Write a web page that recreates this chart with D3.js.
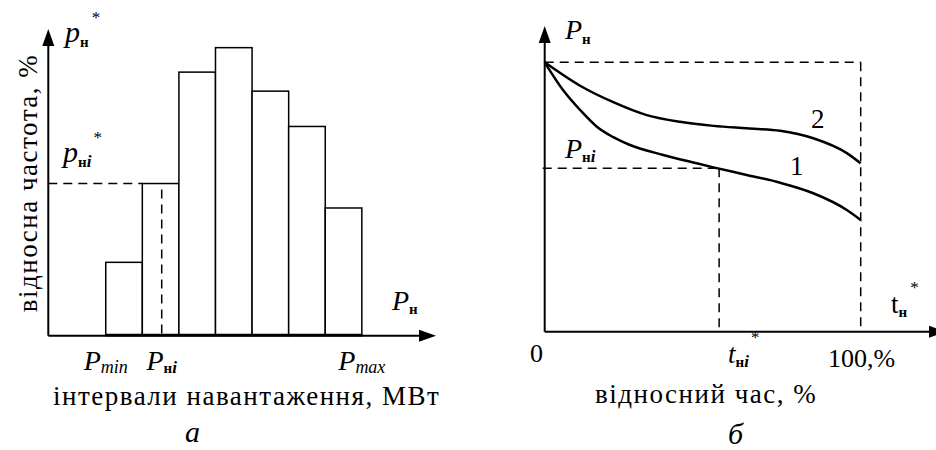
<!DOCTYPE html>
<html><head><meta charset="utf-8">
<script src="https://cdn.jsdelivr.net/npm/d3@7"></script>
<style>
html,body{margin:0;padding:0;background:#fff;}
svg{display:block;}
text{font-family:"Liberation Serif","Times New Roman","Tinos","Noto Serif","DejaVu Serif",serif;}
</style></head>
<body>
<svg id="c" width="936" height="450"></svg>
<script>
// ---- data: panel (а) histogram of load intervals ----
const binIndex = [0, 1, 2, 3, 4, 5, 6];          // load interval number (Pmin .. Pmax)
const binFreq  = [5.4, 11.2, 19.4, 21.2, 18.0, 15.4, 9.4]; // relative frequency, %
const pniBin   = 1;        // highlighted interval
const pniMark  = 1.53;     // position of P_нi inside interval
const xTickPos = [0, 1.53, 7];
const xTickSub = ["min", "нi", "max"];

// ---- data: panel (б) load duration curves ----
const curve1T = [0, 5.8, 11.2, 16.5, 21.7, 27.0, 37.5, 48.1, 53.4, 63.9, 74.5, 85.0, 95.6, 100];
const curve1P = [100, 89.7, 82.3, 76.1, 72.2, 69.3, 65.6, 62.5, 61.0, 58.2, 55.3, 51.4, 45.2, 41.5];
const curve2T = [0, 11.2, 21.7, 32.3, 42.8, 53.4, 63.9, 74.5, 85.0, 95.6, 100];
const curve2P = [100, 91.3, 85.2, 80.4, 77.9, 76.4, 75.5, 74.6, 71.8, 66.3, 62.5];
const pniLevel = 60.7;
const tniShare = 55.2;

const svg = d3.select("#c");
const ink = "#000";

function arrow(g, x, y, dir) {
  const L = 17, W = 6;
  const pts = dir === "up"
    ? [[x, y], [x - W, y + L], [x + W, y + L]]
    : [[x, y], [x - L, y - W], [x - L, y + W]];
  g.append("path").attr("d", "M" + pts.map(p => p.join(",")).join("L") + "Z").attr("fill", ink);
}

function label(g, x, y, parts) {
  const t = g.append("text").attr("x", x).attr("y", y).attr("fill", ink);
  parts.forEach(p => {
    const s = t.append("tspan").text(p.t).attr("font-size", p.fs);
    if (p.it) s.attr("font-style", "italic");
    if (p.b) s.attr("font-weight", "bold");
    if (p.dy) s.attr("dy", p.dy);
    if (p.dx) s.attr("dx", p.dx);
  });
  return t;
}

// ================= Panel (а) =================
const gA = svg.append("g");
const xA = d3.scaleLinear().domain([-1.57, 9.0]).range([48.3, 435]);
const yA = d3.scaleLinear().domain([0, 22.5]).range([335.7, 30]);

gA.selectAll("rect.bar").data(binIndex).enter().append("rect")
  .attr("class", "bar")
  .attr("x", d => xA(d))
  .attr("y", (d, i) => yA(binFreq[i]))
  .attr("width", d => xA(d + 1) - xA(d))
  .attr("height", (d, i) => yA(0) - yA(binFreq[i]))
  .attr("fill", "#fff").attr("stroke", ink).attr("stroke-width", 1.5);

gA.append("line").attr("x1", xA(0)).attr("x2", xA(7)).attr("y1", yA(0) - 1).attr("y2", yA(0) - 1)
  .attr("stroke", ink).attr("stroke-width", 2);

gA.append("line").attr("x1", xA(-1.57)).attr("x2", xA(pniBin)).attr("y1", yA(binFreq[pniBin])).attr("y2", yA(binFreq[pniBin]))
  .attr("stroke", ink).attr("stroke-width", 1.5).attr("stroke-dasharray", "9,6");
gA.append("line").attr("x1", xA(pniMark)).attr("x2", xA(pniMark)).attr("y1", yA(binFreq[pniBin]) + 6).attr("y2", yA(0))
  .attr("stroke", ink).attr("stroke-width", 1.5).attr("stroke-dasharray", "9,6");

gA.append("line").attr("x1", xA(-1.57)).attr("x2", xA(-1.57)).attr("y1", yA(0)).attr("y2", 44)
  .attr("stroke", ink).attr("stroke-width", 2);
arrow(gA, xA(-1.57), 29, "up");
gA.append("line").attr("x1", xA(-1.57)).attr("x2", 420).attr("y1", yA(0)).attr("y2", yA(0))
  .attr("stroke", ink).attr("stroke-width", 2);
arrow(gA, 436, yA(0), "right");

label(gA, 65, 42, [{t: "p", it: 1, fs: 30}, {t: "н", b: 1, fs: 15, dy: 5}, {t: "*", fs: 17, dy: -24, dx: 3}]);
label(gA, 63, 162, [{t: "p", it: 1, fs: 30}, {t: "н", b: 1, fs: 15, dy: 5}, {t: "i", b: 1, it: 1, fs: 17}, {t: "*", fs: 17, dy: -24, dx: 2}]);
label(gA, 392, 310, [{t: "P", it: 1, fs: 28}, {t: "н", b: 1, fs: 15, dy: 4}]);

xTickPos.forEach((p, i) => {
  const sub = xTickSub[i] === "нi"
    ? [{t: "н", b: 1, fs: 15, dy: 3}, {t: "i", b: 1, it: 1, fs: 17}]
    : [{t: xTickSub[i], it: 1, fs: 18, dy: 3}];
  label(gA, xA(p), 370, [{t: "P", it: 1, fs: 28}].concat(sub)).attr("text-anchor", "middle");
});

gA.append("text").attr("x", 53).attr("y", 405).attr("font-size", 27).attr("letter-spacing", 1.5).attr("fill", ink)
  .text("інтервали навантаження, МВт");
gA.append("text").attr("transform", "translate(36.5,183) rotate(-90)").attr("text-anchor", "middle")
  .attr("font-size", 27).attr("letter-spacing", 1.5).attr("fill", ink).text("відносна частота, %");
gA.append("text").attr("x", 185).attr("y", 442).attr("font-size", 30).attr("font-style", "italic").attr("fill", ink).text("а");

// ================= Panel (б) =================
const gB = svg.append("g");
const xB = d3.scaleLinear().domain([0, 100]).range([544.7, 860.7]);
const yB = d3.scaleLinear().domain([0, 100]).range([331.7, 62.3]);

const dashed = (x1, y1, x2, y2) => gB.append("line").attr("x1", x1).attr("y1", y1).attr("x2", x2).attr("y2", y2)
  .attr("stroke", ink).attr("stroke-width", 1.5).attr("stroke-dasharray", "9,6");
dashed(xB(0), yB(100), xB(100), yB(100));
dashed(xB(100), yB(100), xB(100), yB(0));
dashed(xB(0) - 2, yB(pniLevel), xB(tniShare), yB(pniLevel));
dashed(xB(tniShare), yB(pniLevel), xB(tniShare), yB(0));

const line = d3.line().x(d => xB(d[0])).y(d => yB(d[1])).curve(d3.curveMonotoneX);
gB.append("path").datum(d3.zip(curve1T, curve1P)).attr("d", line)
  .attr("fill", "none").attr("stroke", ink).attr("stroke-width", 2.5);
gB.append("path").datum(d3.zip(curve2T, curve2P)).attr("d", line)
  .attr("fill", "none").attr("stroke", ink).attr("stroke-width", 2.5);

gB.append("line").attr("x1", xB(0)).attr("x2", xB(0)).attr("y1", yB(0)).attr("y2", 40)
  .attr("stroke", ink).attr("stroke-width", 2);
arrow(gB, xB(0), 26, "up");
gB.append("line").attr("x1", xB(0)).attr("x2", 935).attr("y1", yB(0)).attr("y2", yB(0))
  .attr("stroke", ink).attr("stroke-width", 2);
arrow(gB, 946, yB(0), "right");

label(gB, 565, 39, [{t: "P", it: 1, fs: 28}, {t: "н", b: 1, fs: 15, dy: 5}]);
label(gB, 565, 158, [{t: "P", it: 1, fs: 28}, {t: "н", b: 1, fs: 15, dy: 4}, {t: "i", b: 1, it: 1, fs: 17}]);
label(gB, 811, 128, [{t: "2", fs: 27}]);
label(gB, 790, 175, [{t: "1", fs: 27}]);
label(gB, 891, 313, [{t: "t", fs: 27}, {t: "н", b: 1, fs: 15, dy: 4}, {t: "*", fs: 17, dy: -24, dx: 3}]);
label(gB, 530, 362, [{t: "0", fs: 26}]);
label(gB, 728, 363, [{t: "t", it: 1, fs: 27}, {t: "н", b: 1, fs: 15, dy: 4}, {t: "i", b: 1, it: 1, fs: 17}, {t: "*", fs: 17, dy: -24, dx: 2}]);
label(gB, 828, 367, [{t: "100,%", fs: 26}]);
gB.append("text").attr("x", 595).attr("y", 403).attr("font-size", 27).attr("letter-spacing", 1.5).attr("fill", ink).text("відносний час, %");
gB.append("text").attr("x", 728).attr("y", 444).attr("font-size", 30).attr("font-style", "italic").attr("fill", ink).text("б");
</script>
</body></html>
